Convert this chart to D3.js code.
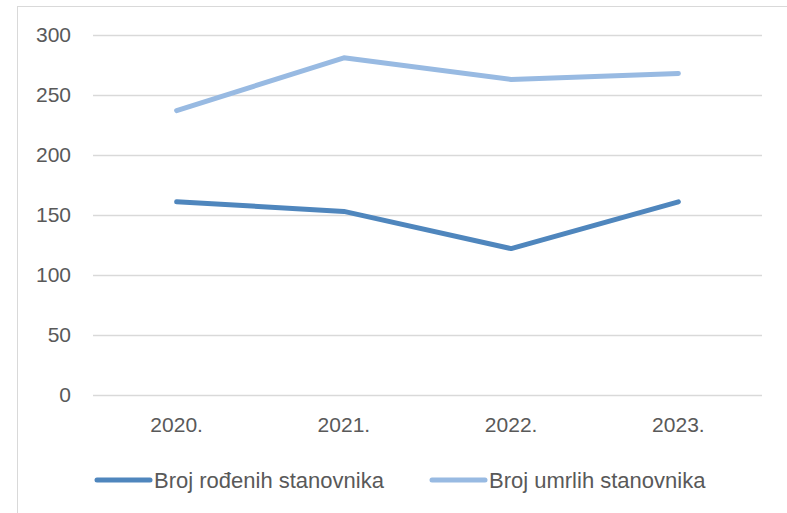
<!DOCTYPE html>
<html>
<head>
<meta charset="utf-8">
<script src="https://cdn.jsdelivr.net/npm/d3@7"></script>
<style>
  body { margin: 0; background: #fff; }
  text { font-family: "Liberation Sans", Arial, sans-serif; fill: #595959; }
</style>
</head>
<body>
<div id="chart"></div>
<script>
// data
var years = ["2020.", "2021.", "2022.", "2023."];
var rodjeni = [161, 153, 122, 161];
var umrli = [237, 281, 263, 268];
var yTicks = [0, 50, 100, 150, 200, 250, 300];
var seriesNames = ["Broj rođenih stanovnika", "Broj umrlih stanovnika"];
var seriesColors = ["#4f86bd", "#98bae2"];

var W = 787, H = 513;
var plot = {left: 93, right: 762, top: 35, bottom: 395};

var svg = d3.select("#chart")
  .append("svg")
    .attr("width", W)
    .attr("height", H);

// outer chart frame (cropped on the right and bottom)
svg.append("rect")
  .attr("x", 17.5).attr("y", 6.5)
  .attr("width", W).attr("height", H)
  .attr("fill", "none")
  .attr("stroke", "#d9d9d9")
  .attr("stroke-width", 1);

var x = d3.scaleBand()
  .domain(years)
  .range([plot.left, plot.right]);

var y = d3.scaleLinear()
  .domain([0, 300])
  .range([plot.bottom, plot.top]);

// gridlines + y labels
var yAxis = svg.append("g")
  .attr("transform", "translate(" + plot.left + ",0)")
  .call(d3.axisLeft(y)
    .tickValues(yTicks)
    .tickSize(-(plot.right - plot.left))
    .tickPadding(22));
yAxis.select(".domain").remove();
yAxis.selectAll(".tick line")
  .attr("stroke", "#d9d9d9")
  .attr("stroke-width", 1.3);
yAxis.selectAll(".tick text")
  .attr("font-size", 21)
  .attr("font-family", null)
  .attr("fill", "#595959");

// x labels
var xAxis = svg.append("g")
  .attr("transform", "translate(0," + plot.bottom + ")")
  .call(d3.axisBottom(x).tickSize(0).tickPadding(22));
xAxis.select(".domain").remove();
xAxis.selectAll(".tick text")
  .attr("font-size", 21)
  .attr("font-family", null)
  .attr("fill", "#595959");

// lines
var line = d3.line()
  .x(function(d, i) { return x(years[i]) + x.bandwidth() / 2; })
  .y(function(d) { return y(d); });

[rodjeni, umrli].forEach(function(s, k) {
  svg.append("path")
    .datum(s)
    .attr("fill", "none")
    .attr("stroke", seriesColors[k])
    .attr("stroke-width", 5)
    .attr("stroke-linecap", "round")
    .attr("stroke-linejoin", "round")
    .attr("d", line);
});

// legend
var legendX = [97, 432];
seriesNames.forEach(function(name, k) {
  var g = svg.append("g").attr("transform", "translate(" + legendX[k] + ",480)");
  g.append("line")
    .attr("x1", 0).attr("x2", 53)
    .attr("stroke", seriesColors[k])
    .attr("stroke-width", 5)
    .attr("stroke-linecap", "round");
  g.append("text")
    .attr("x", 57)
    .attr("dy", "0.35em")
    .attr("font-size", 22)
    .text(name);
});
</script>
</body>
</html>
